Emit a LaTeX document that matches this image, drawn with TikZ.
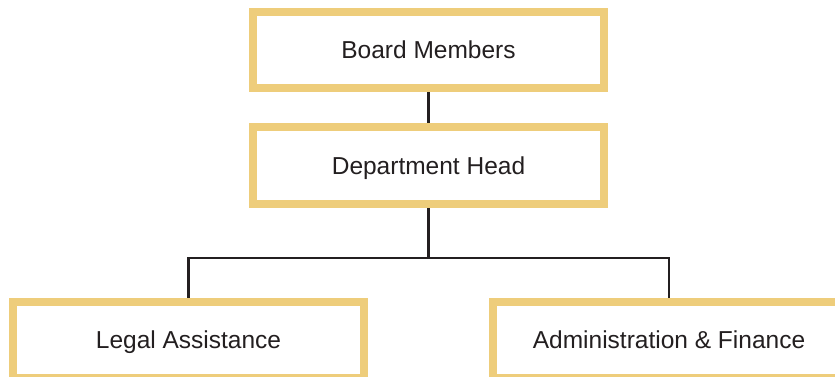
\documentclass[tikz,border=0pt]{standalone}
\usepackage{fontspec}
\setmainfont{Liberation Sans}
\usetikzlibrary{backgrounds}
\definecolor{boxgold}{HTML}{EECD7B}
\definecolor{ink}{HTML}{231F20}
\tikzset{
  orgbox/.style={draw=boxgold, line width=8pt, fill=white, minimum width=351pt, minimum height=76pt, inner sep=0pt, text height=17.5pt, text depth=0pt, text=ink, font=\fontsize{24.5}{29}\selectfont},
  link/.style={draw=ink, line width=2.6pt}
}
\begin{document}
\begin{tikzpicture}[x=1pt,y=-1pt]
\useasboundingbox (0,0) rectangle (835,377);
\node[orgbox] (board) at (428.5,50) {Board Members};
\node[orgbox] (head) at (428.5,165.5) {Department Head};
\node[orgbox] (legal) at (188.5,340) {Legal Assistance};
\node[orgbox, minimum width=352pt] (admin) at (669,340) {Administration \& Finance};
\coordinate (split) at (428.5,258);
\begin{scope}[on background layer]
\draw[link] (board.south) -- (head.north);
\draw[link] (head.south) -- (split);
\draw[link] (legal.north) |- (split) -| (admin.north);
\end{scope}
\end{tikzpicture}
\end{document}
